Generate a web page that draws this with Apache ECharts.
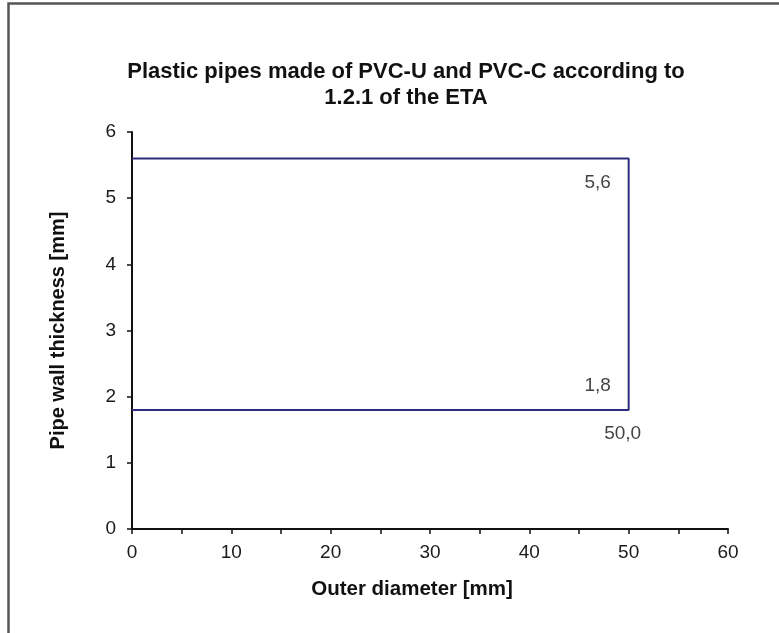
<!DOCTYPE html>
<html><head><meta charset="utf-8">
<script src="https://cdn.jsdelivr.net/npm/echarts@6/dist/echarts.min.js"></script>
<style>html,body{margin:0;padding:0;background:#fff}#c{width:779px;height:633px}</style>
</head><body><div id="c"></div>
<script>
const titleText = 'Plastic pipes made of PVC-U and PVC-C according to\n1.2.1 of the ETA';
const xName = 'Outer diameter [mm]';
const yName = 'Pipe wall thickness [mm]';
const outerDiameter = [0, 50, 50, 0];
const wallThickness = [5.6, 5.6, 1.8, 1.8];
const thicknessLabelIdx = [1, 2];   // points whose thickness value is labelled
const diameterLabelIdx = [2];       // points whose diameter value is labelled

const fmt = v => v.toFixed(1).replace('.', ',');
const font = '"Liberation Sans", Arial, sans-serif';
const lblStyle = { color: '#111', fontSize: 19, fontFamily: font, position: 'inside', textBorderWidth: 0 };

const labelData = [];
thicknessLabelIdx.forEach(i => labelData.push({
  value: [outerDiameter[i], wallThickness[i]],
  label: Object.assign({ show: true, formatter: fmt(wallThickness[i]),
    offset: i === 1 ? [-31, 24] : [-31, -24] }, lblStyle)
}));
diameterLabelIdx.forEach(i => labelData.push({
  value: [outerDiameter[i], wallThickness[i]],
  label: Object.assign({ show: true, formatter: fmt(outerDiameter[i]), offset: [-6, 24] }, lblStyle)
}));

const chart = echarts.init(document.getElementById('c'));
chart.setOption({
  animation: false,
  backgroundColor: '#fff',
  graphic: [{
    type: 'rect', shape: { x: 8.5, y: 3.5, width: 800, height: 700 },
    style: { fill: 'none', stroke: '#555', lineWidth: 2.5 }, silent: true, z: 100
  }],
  title: {
    text: titleText, left: 401, top: 54, textAlign: 'center',
    textStyle: { fontFamily: font, fontSize: 22, fontWeight: 'bold', color: '#111', lineHeight: 26 }
  },
  grid: { left: 132, right: 51, top: 132, bottom: 104 },
  xAxis: {
    type: 'value', min: 0, max: 60, interval: 5,
    name: xName, nameLocation: 'middle', nameGap: 50,
    nameTextStyle: { fontFamily: font, fontSize: 20.5, fontWeight: 'bold', color: '#111', padding: [0, 36, 0, 0] },
    axisLine: { show: true, onZero: false, lineStyle: { color: '#111', width: 2 } },
    axisTick: { show: true, length: 5, lineStyle: { color: '#111', width: 1.5 } },
    axisLabel: { color: '#1a1a1a', fontSize: 19, fontFamily: font, margin: 14,
      formatter: v => (v % 10 === 0 ? String(v) : '') },
    splitLine: { show: false }
  },
  yAxis: {
    type: 'value', min: 0, max: 6, interval: 1,
    name: yName, nameLocation: 'middle', nameGap: 64,
    nameTextStyle: { fontFamily: font, fontSize: 20, fontWeight: 'bold', color: '#111' },
    axisLine: { show: true, lineStyle: { color: '#111', width: 2 } },
    axisTick: { show: true, length: 5, lineStyle: { color: '#111', width: 1.5 } },
    axisLabel: { color: '#1a1a1a', fontSize: 19, fontFamily: font, margin: 16 },
    splitLine: { show: false }
  },
  series: [{
    type: 'line', data: outerDiameter.map((x, i) => [x, wallThickness[i]]),
    symbol: 'none', lineStyle: { color: '#2e2c7c', width: 2 }, z: 3
  }, {
    type: 'scatter', symbolSize: 0, data: labelData, z: 4
  }]
});
</script></body></html>
